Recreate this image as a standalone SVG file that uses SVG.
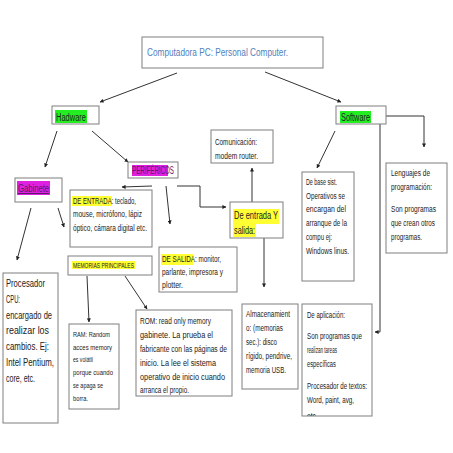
<svg xmlns="http://www.w3.org/2000/svg" width="453" height="453" viewBox="0 0 453 453">
<defs>
<style>
.box{fill:#fff;stroke:#7f7f7f;stroke-width:1}
.t{font-family:"Liberation Sans",Arial,sans-serif;fill:#222}
.hl{stroke:none}
.conn path{fill:none;stroke:#333;stroke-width:1}
</style>
<marker id="ah" viewBox="0 0 10 10" refX="9" refY="5" markerWidth="4" markerHeight="4" markerUnits="userSpaceOnUse" orient="auto">
<path d="M0,0 L10,5 L0,10 z" fill="#222"/>
</marker>
<clipPath id="clipApp"><rect x="302" y="304" width="70" height="112"/></clipPath>
</defs>
<rect width="453" height="453" fill="#fff"/>

<g class="conn">
<path d="M177,73 L100,102" marker-end="url(#ah)"/>
<path d="M265,72 L341,102" marker-end="url(#ah)"/>
<path d="M57,131 L45,167" marker-end="url(#ah)"/>
<path d="M92,131 L128,162" marker-end="url(#ah)"/>
<path d="M31,208 L17,260" marker-end="url(#ah)"/>
<path d="M58,208 L64,227" marker-end="url(#ah)"/>
<path d="M152,186 L122,187" marker-end="url(#ah)"/>
<path d="M166,186 L170,224" marker-end="url(#ah)"/>
<path d="M177,186 H200 V207 H226" marker-end="url(#ah)"/>
<path d="M252,202 V168" marker-end="url(#ah)"/>
<path d="M264,238 V287" marker-end="url(#ah)"/>
<path d="M87,276 L89,322" marker-end="url(#ah)"/>
<path d="M125,276 L147,309" marker-end="url(#ah)"/>
<path d="M335,131 L317,168" marker-end="url(#ah)"/>
<path d="M386,116 H424 V147" marker-end="url(#ah)"/>
<path d="M380,124 V332 H375" marker-end="url(#ah)"/>
</g>

<g id="computadora">
<rect class="box" x="142" y="37" width="181" height="31"/>
<text class="t" x="147" y="56" font-size="11" fill="#4f81bd" style="fill:#4f81bd" textLength="141" lengthAdjust="spacingAndGlyphs">Computadora PC: Personal Computer.</text>
</g>

<g id="hardware">
<rect class="box" x="52" y="106" width="47" height="18"/>
<rect class="hl" x="55" y="110" width="32" height="13" fill="#22ee22"/>
<text class="t" x="56" y="121" font-size="10" textLength="30" lengthAdjust="spacingAndGlyphs">Hadware</text>
</g>

<g id="software">
<rect class="box" x="336" y="106" width="50" height="18"/>
<rect class="hl" x="340" y="111" width="31" height="12" fill="#22ee22"/>
<text class="t" x="341" y="121" font-size="10" textLength="29" lengthAdjust="spacingAndGlyphs">Software</text>
</g>

<g id="gabinete">
<rect class="box" x="15" y="178" width="47" height="24"/>
<rect class="hl" x="17" y="181" width="33" height="14" fill="#e020e0"/>
<text class="t" x="18" y="192" font-size="10" style="fill:#5a1a6a" text-decoration="underline" textLength="31" lengthAdjust="spacingAndGlyphs">Gabinete</text>
</g>

<g id="perifericos">
<rect class="box" x="128" y="162" width="50" height="16"/>
<rect class="hl" x="132" y="165" width="36" height="11" fill="#e020e0"/>
<text class="t" x="132" y="174" font-size="10" style="fill:#5a1a6a" textLength="42" lengthAdjust="spacingAndGlyphs">PERIFÉRICOS</text>
</g>

<g id="procesador">
<rect class="box" x="3" y="273" width="55" height="150"/>
<text class="t" font-size="11">
<tspan x="6" y="287" textLength="39" lengthAdjust="spacingAndGlyphs">Procesador</tspan>
<tspan x="6" y="303" textLength="14" lengthAdjust="spacingAndGlyphs">CPU:</tspan>
<tspan x="6" y="319" textLength="46" lengthAdjust="spacingAndGlyphs">encargado de</tspan>
<tspan x="6" y="334" textLength="43" lengthAdjust="spacingAndGlyphs">realizar los</tspan>
<tspan x="6" y="350" textLength="43" lengthAdjust="spacingAndGlyphs">cambios. Ej:</tspan>
<tspan x="6" y="366" textLength="48" lengthAdjust="spacingAndGlyphs">Intel Pentium,</tspan>
<tspan x="6" y="382" textLength="29" lengthAdjust="spacingAndGlyphs">core, etc.</tspan>
</text>
</g>

<g id="de-entrada">
<rect class="box" x="70" y="190" width="82" height="57"/>
<rect class="hl" x="72" y="196" width="40" height="10" fill="#ffff33"/>
<text class="t" font-size="9">
<tspan x="73" y="204" textLength="63" lengthAdjust="spacingAndGlyphs">DE ENTRADA: teclado,</tspan>
<tspan x="73" y="217" textLength="69" lengthAdjust="spacingAndGlyphs">mouse, micrófono, lápiz</tspan>
<tspan x="73" y="231" textLength="74" lengthAdjust="spacingAndGlyphs">óptico,  cámara digital etc.</tspan>
</text>
</g>

<g id="de-salida">
<rect class="box" x="159" y="247" width="78" height="45"/>
<rect class="hl" x="161" y="254" width="32" height="11" fill="#ffff33"/>
<text class="t" font-size="9">
<tspan x="162" y="262" textLength="59" lengthAdjust="spacingAndGlyphs">DE SALIDA: monitor,</tspan>
<tspan x="162" y="275" textLength="61" lengthAdjust="spacingAndGlyphs">parlante, impresora y</tspan>
<tspan x="162" y="288" textLength="21" lengthAdjust="spacingAndGlyphs">plotter.</tspan>
</text>
</g>

<g id="memorias">
<rect class="box" x="68" y="256" width="84" height="19"/>
<rect class="hl" x="72" y="261" width="63" height="8" fill="#ffff33"/>
<text class="t" x="73" y="268" font-size="7" textLength="61" lengthAdjust="spacingAndGlyphs">MEMORIAS PRINCIPALES</text>
</g>

<g id="ram">
<rect class="box" x="69" y="324" width="50" height="85"/>
<text class="t" font-size="8">
<tspan x="73" y="337" textLength="37" lengthAdjust="spacingAndGlyphs">RAM: Random</tspan>
<tspan x="73" y="350" textLength="39" lengthAdjust="spacingAndGlyphs">acces memory</tspan>
<tspan x="73" y="362" textLength="20" lengthAdjust="spacingAndGlyphs">es volátil</tspan>
<tspan x="73" y="375" textLength="40" lengthAdjust="spacingAndGlyphs">porque  cuando</tspan>
<tspan x="73" y="388" textLength="30" lengthAdjust="spacingAndGlyphs">se apaga se</tspan>
<tspan x="73" y="401" textLength="15" lengthAdjust="spacingAndGlyphs">borra.</tspan>
</text>
</g>

<g id="rom">
<rect class="box" x="136" y="310" width="96" height="86"/>
<text class="t" font-size="8.5">
<tspan x="140" y="324" textLength="71" lengthAdjust="spacingAndGlyphs">ROM: read only memory</tspan>
<tspan x="140" y="338" textLength="73" lengthAdjust="spacingAndGlyphs">gabinete.  La prueba el</tspan>
<tspan x="140" y="352" textLength="87" lengthAdjust="spacingAndGlyphs">fabricante con las páginas de</tspan>
<tspan x="140" y="366" textLength="76" lengthAdjust="spacingAndGlyphs">inicio. La lee el sistema</tspan>
<tspan x="140" y="380" textLength="85" lengthAdjust="spacingAndGlyphs">operativo de inicio cuando</tspan>
<tspan x="140" y="393" textLength="49" lengthAdjust="spacingAndGlyphs">arranca el propio.</tspan>
</text>
</g>

<g id="entrada-salida">
<rect class="box" x="230" y="202" width="53" height="36"/>
<rect class="hl" x="233" y="209" width="46" height="15" fill="#ffff33"/>
<rect class="hl" x="233" y="224" width="23" height="13" fill="#ffff33"/>
<text class="t" font-size="11">
<tspan x="234" y="219" textLength="44" lengthAdjust="spacingAndGlyphs">De entrada Y</tspan>
<tspan x="234" y="234" textLength="21" lengthAdjust="spacingAndGlyphs">salida:</tspan>
</text>
</g>

<g id="comunicacion">
<rect class="box" x="211" y="130" width="62" height="33"/>
<text class="t" font-size="9">
<tspan x="215" y="145" textLength="42" lengthAdjust="spacingAndGlyphs">Comunicación:</tspan>
<tspan x="215" y="159" textLength="43" lengthAdjust="spacingAndGlyphs">modem router.</tspan>
</text>
</g>

<g id="almacenamiento">
<rect class="box" x="242" y="304" width="56" height="85"/>
<text class="t" font-size="8.5">
<tspan x="246" y="317" textLength="44" lengthAdjust="spacingAndGlyphs">Almacenamient</tspan>
<tspan x="246" y="331" textLength="37" lengthAdjust="spacingAndGlyphs">o: (memorias</tspan>
<tspan x="246" y="345" textLength="31" lengthAdjust="spacingAndGlyphs">sec.): disco</tspan>
<tspan x="246" y="359" textLength="46" lengthAdjust="spacingAndGlyphs">rígido, pendrive,</tspan>
<tspan x="246" y="373" textLength="40" lengthAdjust="spacingAndGlyphs">memoria USB.</tspan>
</text>
</g>

<g id="de-base">
<rect class="box" x="302" y="172" width="52" height="109"/>
<text class="t" font-size="8.5">
<tspan x="306" y="185" textLength="31" lengthAdjust="spacingAndGlyphs">De base sist.</tspan>
<tspan x="306" y="199" textLength="39" lengthAdjust="spacingAndGlyphs">Operativos se</tspan>
<tspan x="306" y="212" textLength="40" lengthAdjust="spacingAndGlyphs">encargan  del</tspan>
<tspan x="306" y="226" textLength="41" lengthAdjust="spacingAndGlyphs">arranque de la</tspan>
<tspan x="306" y="240" textLength="26" lengthAdjust="spacingAndGlyphs">compu ej:</tspan>
<tspan x="306" y="254" textLength="43" lengthAdjust="spacingAndGlyphs">Windows linus.</tspan>
</text>
</g>

<g id="lenguajes">
<rect class="box" x="386" y="163" width="61" height="90"/>
<text class="t" font-size="8.5">
<tspan x="391" y="176" textLength="39" lengthAdjust="spacingAndGlyphs">Lenguajes de</tspan>
<tspan x="391" y="190" textLength="41" lengthAdjust="spacingAndGlyphs">programación:</tspan>
<tspan x="391" y="212" textLength="45" lengthAdjust="spacingAndGlyphs">Son programas</tspan>
<tspan x="391" y="226" textLength="44" lengthAdjust="spacingAndGlyphs">que crean otros</tspan>
<tspan x="391" y="240" textLength="31" lengthAdjust="spacingAndGlyphs">programas.</tspan>
</text>
</g>

<g id="de-aplicacion">
<rect class="box" x="302" y="304" width="70" height="112"/>
<text class="t" font-size="8.5" clip-path="url(#clipApp)">
<tspan x="307" y="318" textLength="38" lengthAdjust="spacingAndGlyphs">De aplicación:</tspan>
<tspan x="307" y="339" textLength="55" lengthAdjust="spacingAndGlyphs">Son programas que</tspan>
<tspan x="307" y="353" textLength="30" lengthAdjust="spacingAndGlyphs">realizan tareas</tspan>
<tspan x="307" y="367" textLength="29" lengthAdjust="spacingAndGlyphs">específicas</tspan>
<tspan x="307" y="389" textLength="60" lengthAdjust="spacingAndGlyphs">Procesador de textos:</tspan>
<tspan x="307" y="403" textLength="47" lengthAdjust="spacingAndGlyphs">Word, paint, avg,</tspan>
<tspan x="307" y="419" textLength="9" lengthAdjust="spacingAndGlyphs">etc</tspan>
</text>
</g>
</svg>
